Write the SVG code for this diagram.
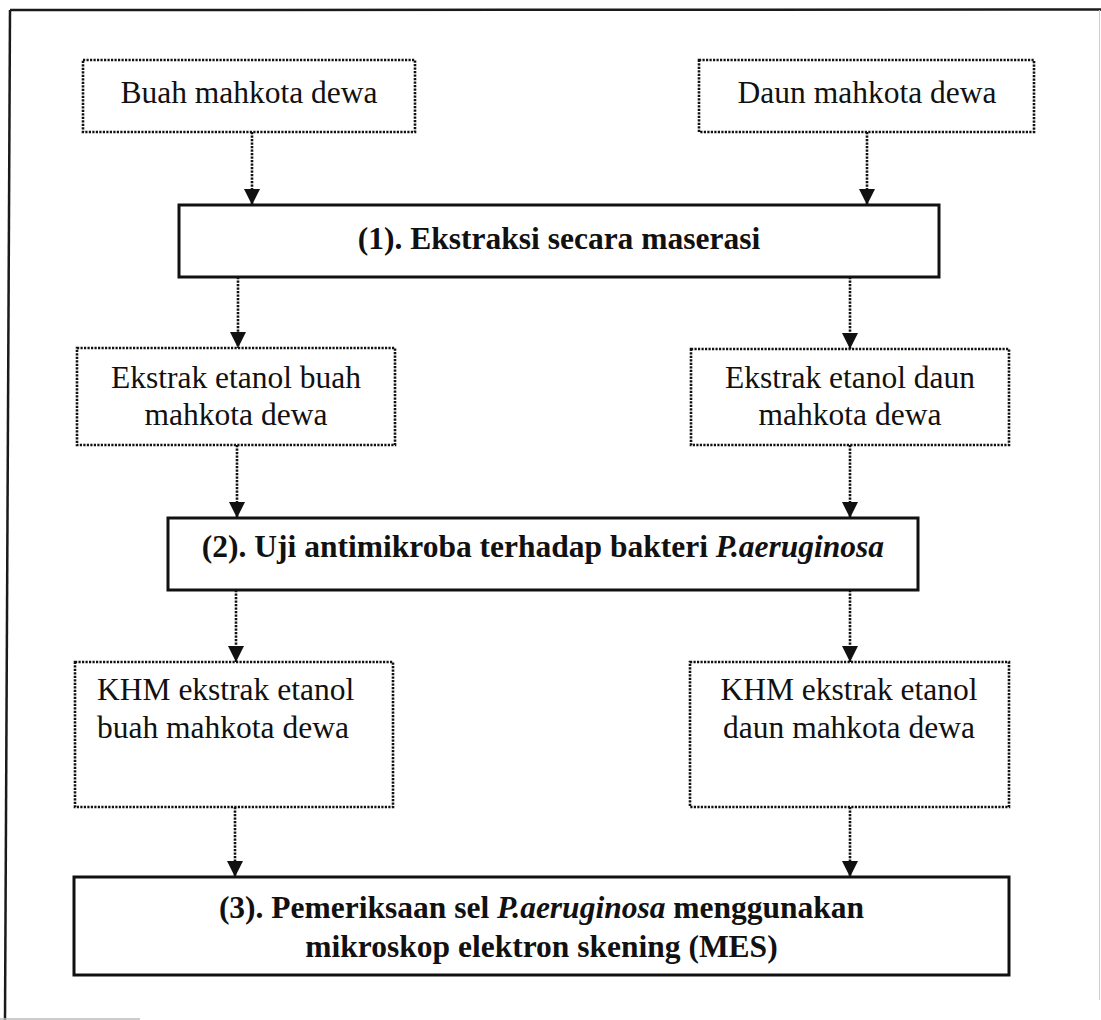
<svg xmlns="http://www.w3.org/2000/svg" width="1101" height="1020" viewBox="0 0 1101 1020">
<defs>
<style>
.frame{fill:none;stroke:#1a1a1a;stroke-width:2.5}
.solid{fill:#fff;stroke:#111;stroke-width:3}
.dot{fill:#fff;stroke:#111;stroke-width:2.6;stroke-dasharray:2.2 1.3}
.conn{fill:none;stroke:#111;stroke-width:2.6;stroke-dasharray:2.2 1.3}
text{font-family:"Liberation Serif","Times New Roman",serif;font-size:31.5px;fill:#111}
.b{font-weight:bold}
.i{font-style:italic}
</style>
<marker id="ah" markerUnits="userSpaceOnUse" markerWidth="18" markerHeight="16" refX="17" refY="8" orient="auto" viewBox="0 0 18 16">
<path d="M1,0 L17,8 L1,16 Z" fill="#111"/>
</marker>
</defs>
<rect width="1101" height="1020" fill="#fff"/>
<g id="frame">
<path class="frame" d="M10,10 L1101,9.5"/>
<path class="frame" d="M10,10 L5,1020"/>
<path d="M1099.5,10 L1099.5,1000" stroke="#ccc" stroke-width="1" fill="none"/>
<path d="M0,1019 L140,1019" stroke="#bbb" stroke-width="1.5" fill="none"/>
</g>
<g id="connectors">
<path class="conn" d="M252,132 V205" marker-end="url(#ah)"/>
<path class="conn" d="M867,132 V205" marker-end="url(#ah)"/>
<path class="conn" d="M238,277 V348" marker-end="url(#ah)"/>
<path class="conn" d="M850,277 V349" marker-end="url(#ah)"/>
<path class="conn" d="M237,445 V518" marker-end="url(#ah)"/>
<path class="conn" d="M850,445 V518" marker-end="url(#ah)"/>
<path class="conn" d="M236,590 V662" marker-end="url(#ah)"/>
<path class="conn" d="M850,590 V662" marker-end="url(#ah)"/>
<path class="conn" d="M235,807 V877" marker-end="url(#ah)"/>
<path class="conn" d="M850,807 V877" marker-end="url(#ah)"/>
</g>
<g id="buah">
<rect class="dot" x="83" y="60" width="332" height="72"/>
<text x="249" y="103" text-anchor="middle">Buah mahkota dewa</text>
</g>
<g id="daun">
<rect class="dot" x="699" y="60" width="335" height="72"/>
<text x="867" y="103" text-anchor="middle">Daun mahkota dewa</text>
</g>
<g id="step1">
<rect class="solid" x="179" y="205" width="760" height="72"/>
<text class="b" x="559" y="249" text-anchor="middle">(1). Ekstraksi secara maserasi</text>
</g>
<g id="ekstrak-buah">
<rect class="dot" x="77" y="348" width="318" height="97"/>
<text x="236" y="388" text-anchor="middle">Ekstrak etanol buah</text>
<text x="236" y="425" text-anchor="middle">mahkota dewa</text>
</g>
<g id="ekstrak-daun">
<rect class="dot" x="691" y="349" width="318" height="96"/>
<text x="850" y="388" text-anchor="middle">Ekstrak etanol daun</text>
<text x="850" y="425" text-anchor="middle">mahkota dewa</text>
</g>
<g id="step2">
<rect class="solid" x="168" y="518" width="750" height="72"/>
<text class="b" x="543" y="557" text-anchor="middle">(2). Uji antimikroba terhadap bakteri <tspan class="i">P.aeruginosa</tspan></text>
</g>
<g id="khm-buah">
<rect class="dot" x="75" y="662" width="318" height="145"/>
<text x="97" y="700">KHM ekstrak etanol</text>
<text x="97" y="738">buah mahkota dewa</text>
</g>
<g id="khm-daun">
<rect class="dot" x="690" y="662" width="319" height="145"/>
<text x="849" y="700" text-anchor="middle">KHM ekstrak etanol</text>
<text x="849" y="738" text-anchor="middle">daun mahkota dewa</text>
</g>
<g id="step3">
<rect class="solid" x="74" y="877" width="935" height="98"/>
<text class="b" x="541.5" y="918" text-anchor="middle">(3). Pemeriksaan sel <tspan class="i">P.aeruginosa</tspan> menggunakan</text>
<text class="b" x="541.5" y="957" text-anchor="middle">mikroskop elektron skening (MES)</text>
</g>
</svg>
